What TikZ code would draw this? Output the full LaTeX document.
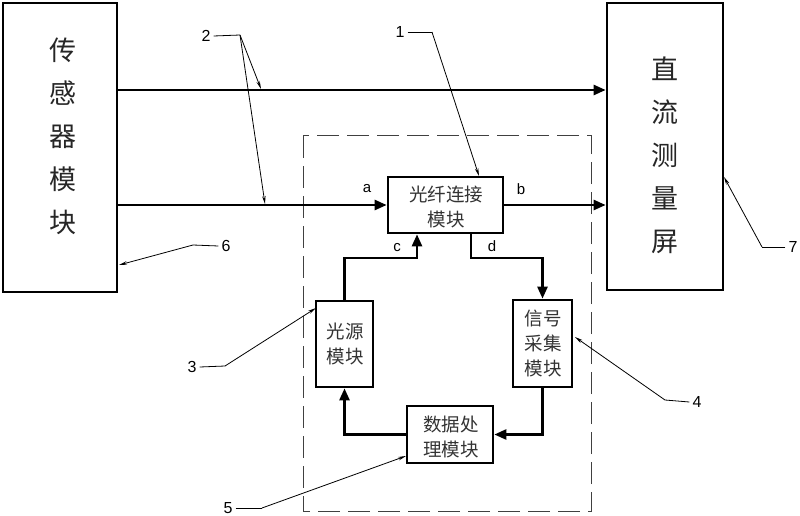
\documentclass[tikz,border=0pt]{standalone}
\usepackage{fontspec}
\setmainfont{Liberation Sans}
\newfontfamily\cjk{Noto Sans CJK SC}
\usetikzlibrary{arrows.meta,calc}
\begin{document}
\begin{tikzpicture}[x=1pt,y=-1pt,
  box/.style={draw,line width=2.7pt,minimum width=#1,inner sep=0pt},
  big/.style={font=\cjk\fontsize{27}{43}\selectfont,align=center,text=black!85,inner sep=0pt},
  small/.style={font=\cjk\fontsize{18.5}{25}\selectfont,align=center,text=black!80,inner sep=0pt},
  conn/.style={line width=2.5pt,-{Triangle[length=12pt,width=10pt]}},
  lead/.style={line width=0.8pt,-{Stealth[length=8pt,width=3.5pt]}},
  leadline/.style={line width=0.8pt},
  num/.style={font=\fontsize{16}{16}\selectfont,inner sep=0pt},
  let/.style={font=\fontsize{15}{15}\selectfont,inner sep=0pt}]
\useasboundingbox (0,0) rectangle (800,516);
% dashed enclosure
\draw[line width=1pt,black!75,dash pattern=on 22pt off 8pt] (303,136) rectangle (591,511);
% main boxes
\node[box=114pt,minimum height=289pt] (sensor) at (60,147.5) {};
\node[big] (sensorT) at (63,136) {传\\感\\器\\模\\块};
\node[box=116pt,minimum height=287pt] (meter) at (665,146.5) {};
\node[big] (meterT) at (665,155) {直\\流\\测\\量\\屏};
\node[box=115pt,minimum height=56pt] (fiber) at (445.5,205) {};
\node[small] (fiberT) at (446,207) {光纤连接\\模块};
\node[box=57pt,minimum height=86pt] (light) at (344.5,344) {};
\node[small] (lightT) at (345,344) {光源\\模块};
\node[box=59pt,minimum height=87pt] (signal) at (542.5,343.5) {};
\node[small] (signalT) at (543,343) {信号\\采集\\模块};
\node[box=86pt,minimum height=57pt] (data) at (450,434.5) {};
\node[small] (dataT) at (451,437) {数据处\\理模块};
% connectors
\coordinate (yTop) at (0,90);
\draw[conn] (sensor.east |- yTop) -- (meter.west |- yTop);
\draw[conn] (sensor.east |- fiber.west) -- (fiber.west);
\draw[conn] (fiber.east) -- (meter.west |- fiber.east);
\coordinate (cTurn) at (417,258);
\draw[conn] (light.north) |- (cTurn) -- (cTurn |- fiber.south);
\coordinate (dTurn) at (471,258);
\draw[conn] (dTurn |- fiber.south) -- (dTurn) -| (signal.north);
\draw[conn] (signal.south) |- (data.east);
\draw[conn] (data.west) -| (light.south);
% port letters
\node[let] (la) at (367,189) {a};
\node[let] (lb) at (521,189) {b};
\node[let] (lc) at (397,248) {c};
\node[let] (ld) at (492,246) {d};
% leaders
\node[num] (n2) at (206,36) {2};
\coordinate (k2) at (240,35);
\draw[leadline] (n2.east) ++(3,0) -- (k2);
\coordinate (t2a) at (261,89);
\coordinate (t2b) at (265,204);
\draw[lead] (k2) -- (t2a);
\draw[lead] (k2) -- (t2b);
\node[num] (n1) at (400,32) {1};
\coordinate (k1) at (432,32);
\coordinate (t1) at (479,176);
\draw[leadline] (n1.east) ++(3,0) -- (k1);
\draw[lead] (k1) -- (t1);
\node[num] (n7) at (793,247) {7};
\coordinate (k7) at (762,247);
\coordinate (t7) at (724,177);
\draw[leadline] (n7.west) ++(-3,0) -- (k7);
\draw[lead] (k7) -- (t7);
\node[num] (n6) at (226,246) {6};
\coordinate (k6) at (193,245);
\coordinate (t6) at (119,265);
\draw[leadline] (n6.west) ++(-3,0) -- (k6);
\draw[lead] (k6) -- (t6);
\node[num] (n3) at (192,367) {3};
\coordinate (k3) at (225,366);
\coordinate (t3) at (316,308);
\draw[leadline] (n3.east) ++(3,0) -- (k3);
\draw[lead] (k3) -- (t3);
\node[num] (n4) at (697,402) {4};
\coordinate (k4) at (665,400);
\coordinate (t4) at (575,337);
\draw[leadline] (n4.west) ++(-3,0) -- (k4);
\draw[lead] (k4) -- (t4);
\node[num] (n5) at (228,508) {5};
\coordinate (k5) at (262,508);
\coordinate (t5) at (406,456);
\draw[leadline] (n5.east) ++(3,0) -- (k5);
\draw[lead] (k5) -- (t5);
\end{tikzpicture}
\end{document}
